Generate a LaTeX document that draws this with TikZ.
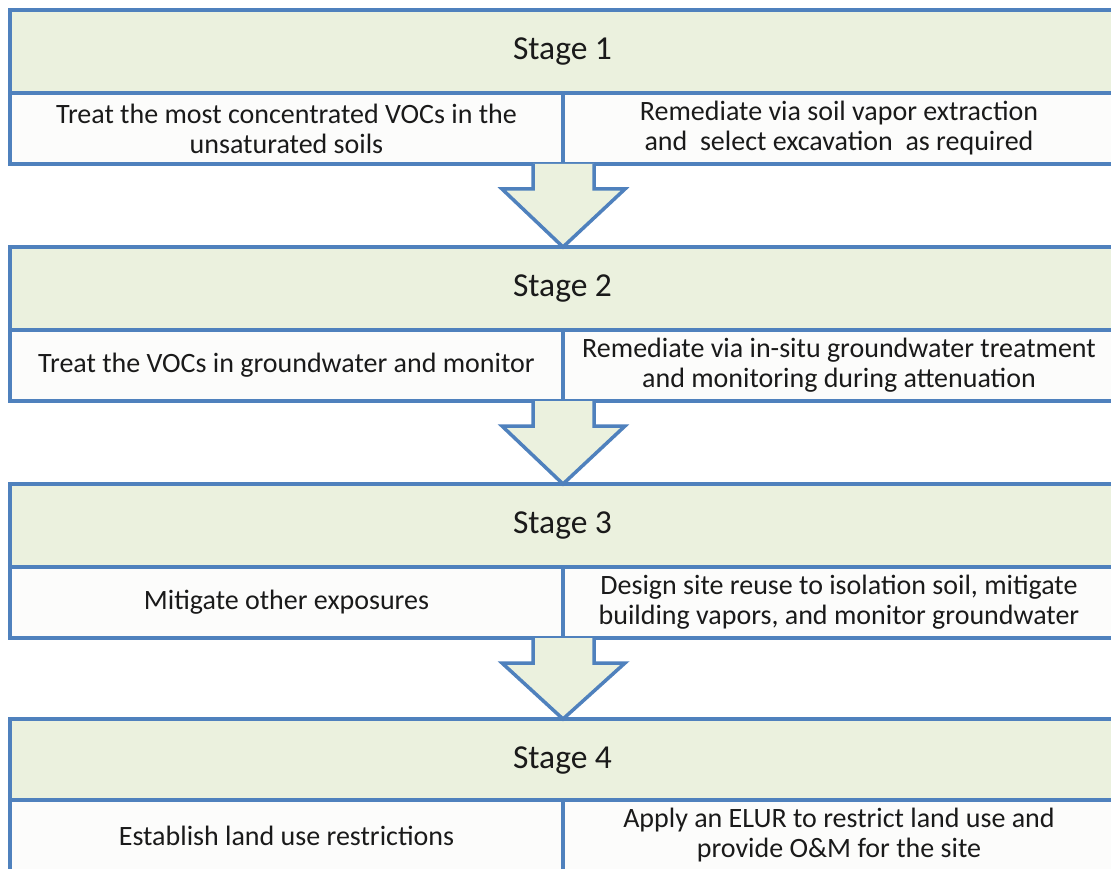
\documentclass[tikz,border=0pt]{standalone}
\usepackage{fontspec}
\setmainfont{Carlito}
\usepackage{xcolor}
\usetikzlibrary{calc}

\definecolor{stageblue}{HTML}{4F81BD}
\definecolor{stagegreen}{HTML}{EBF1DE}
\definecolor{cellwhite}{HTML}{FCFCFB}
\definecolor{inktext}{HTML}{1A1A1A}

\tikzset{
	stagehead/.style={draw=stageblue, fill=stagegreen, line width=3.5pt, inner sep=0pt, outer sep=0pt,
		minimum width=1105pt, minimum height=83pt, anchor=north west, text=inktext,
		font=\fontsize{33.5}{38}\selectfont},
	leftcell/.style={draw=stageblue, fill=cellwhite, line width=3.5pt, inner sep=0pt, outer sep=0pt,
		minimum width=553pt, minimum height=71pt, anchor=north west, align=center, text=inktext,
		font=\fontsize{28}{30}\selectfont},
	rightcell/.style={leftcell, minimum width=552pt},
	downarrow/.style={draw=stageblue, fill=stagegreen, line width=3.5pt}
}

\begin{document}
\begin{tikzpicture}[x=1pt,y=-1pt]
			\useasboundingbox[fill=white] (0,0) rectangle (1111,869);

			% stage 1
			\node[stagehead] (stage1) at (10,10) {Stage 1};
			\node[leftcell] (task1) at (10,93) {Treat the most concentrated VOCs in the\\unsaturated soils};
			\node[rightcell] (act1) at (563,93) {Remediate via soil vapor extraction\\and\ \ select excavation\ \ as required};

			% stage 2
			\node[stagehead] (stage2) at (10,247) {Stage 2};
			\node[leftcell] (task2) at (10,330) {Treat the VOCs in groundwater and monitor};
			\node[rightcell] (act2) at (563,330) {Remediate via in-situ groundwater treatment\\and monitoring during attenuation};

			% stage 3
			\node[stagehead] (stage3) at (10,484) {Stage 3};
			\node[leftcell] (task3) at (10,567) {Mitigate other exposures};
			\node[rightcell] (act3) at (563,567) {Design site reuse to isolation soil, mitigate\\building vapors, and monitor groundwater};

			% stage 4
			\node[stagehead] (stage4) at (10,719) {Stage 4};
			\node[leftcell] (task4) at (10,800) {Establish land use restrictions};
			\node[rightcell] (act4) at (563,800) {Apply an ELUR to restrict land use and\\provide O\&M for the site};

			% arrows between the stages
			\foreach \a/\b in {1/2,2/3,3/4}
				\draw[downarrow] ($(task\a.south east)+(-30,0)$) -- ++(0,25) -- ++(-31,0)
					-- (stage\b.north -| task\a.south east) -- ($(task\a.south east)+(62,25)$)
					-- ++(-31,0) -- ($(task\a.south east)+(31,0)$);
		\end{tikzpicture}
\end{document}
